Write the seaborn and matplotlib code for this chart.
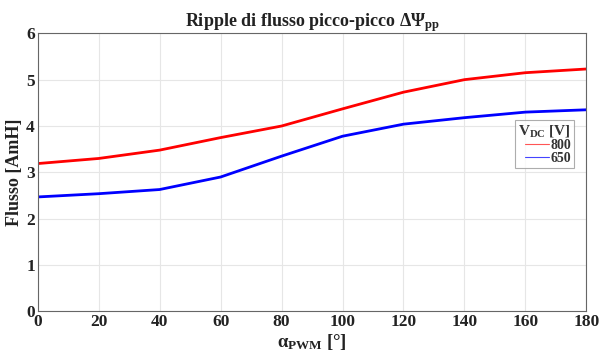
import matplotlib
matplotlib.use("Agg")
import matplotlib.pyplot as plt
import seaborn as sns
import pandas as pd

alpha_pwm = [0, 20, 40, 60, 80, 100, 120, 140, 160, 180]
flux_800 = [3.19, 3.30, 3.48, 3.75, 4.00, 4.37, 4.73, 5.00, 5.15, 5.23]
flux_650 = [2.47, 2.54, 2.63, 2.90, 3.35, 3.78, 4.04, 4.18, 4.30, 4.35]
series_labels = ["800", "650"]

df = pd.concat([
    pd.DataFrame({"alpha": alpha_pwm, "flux": flux_800, "V": series_labels[0]}),
    pd.DataFrame({"alpha": alpha_pwm, "flux": flux_650, "V": series_labels[1]}),
])

sns.set_style("white")
plt.rcParams["font.family"] = ["Liberation Serif", "DejaVu Serif"]
plt.rcParams["font.weight"] = "bold"
plt.rcParams["mathtext.fontset"] = "custom"
plt.rcParams["mathtext.rm"] = "Liberation Serif:bold"
plt.rcParams["mathtext.it"] = "Liberation Serif:bold"
plt.rcParams["mathtext.bf"] = "Liberation Serif:bold"

fig = plt.figure(figsize=(6.01, 3.58), dpi=100)
ax = fig.add_axes([0.0627, 0.130, 0.913, 0.777])

sns.lineplot(data=df, x="alpha", y="flux", hue="V",
             palette={"800": "#ff0000", "650": "#0000ff"},
             linewidth=2, ax=ax, legend=False)

ax.set_xlim(0, 180)
ax.set_ylim(0, 6)
ax.set_xticks(alpha_pwm)
ax.set_yticks(range(0, 7))
ax.grid(True, color="#e6e6e6", linewidth=0.8)
ax.tick_params(direction="in", length=3, labelsize=12.5, pad=2, color="#555555",
               labelcolor="#222222")
for lab in ax.get_xticklabels() + ax.get_yticklabels():
    lab.set_fontweight("bold")
for s in ax.spines.values():
    s.set_color("#666666")
    s.set_linewidth(0.8)

ax.set_title(r"Ripple di flusso picco-picco $\Delta\Psi_{\mathrm{pp}}$",
             fontsize=13, fontweight="bold", pad=5, color="#222222")
ax.set_xlabel(r"$\alpha_{\mathrm{PWM}}$ [°]", fontsize=13.5, fontweight="bold",
              labelpad=1, color="#222222")
ax.set_ylabel("Flusso [AmH]", fontsize=13, fontweight="bold", labelpad=2,
              color="#222222")

h1, = ax.plot([], [], color="#ff5555", linewidth=0.8)
h2, = ax.plot([], [], color="#4444ff", linewidth=0.8)
leg = ax.legend([h1, h2], series_labels, title=r"V$_{\mathrm{DC}}$ [V]",
                loc="upper right", bbox_to_anchor=(0.978, 0.69),
                fontsize=10, title_fontsize=11, handlelength=1.7,
                handletextpad=0.1, borderpad=0.25, labelspacing=0.0,
                borderaxespad=0, frameon=True, fancybox=False,
                edgecolor="#999999", alignment="right", markerfirst=True)
leg.get_frame().set_linewidth(0.8)
for t in leg.get_texts():
    t.set_fontweight("bold")
    t.set_color("#333333")
leg.get_title().set_fontweight("bold")
leg.get_title().set_color("#333333")

fig.savefig("out.png", dpi=100)
